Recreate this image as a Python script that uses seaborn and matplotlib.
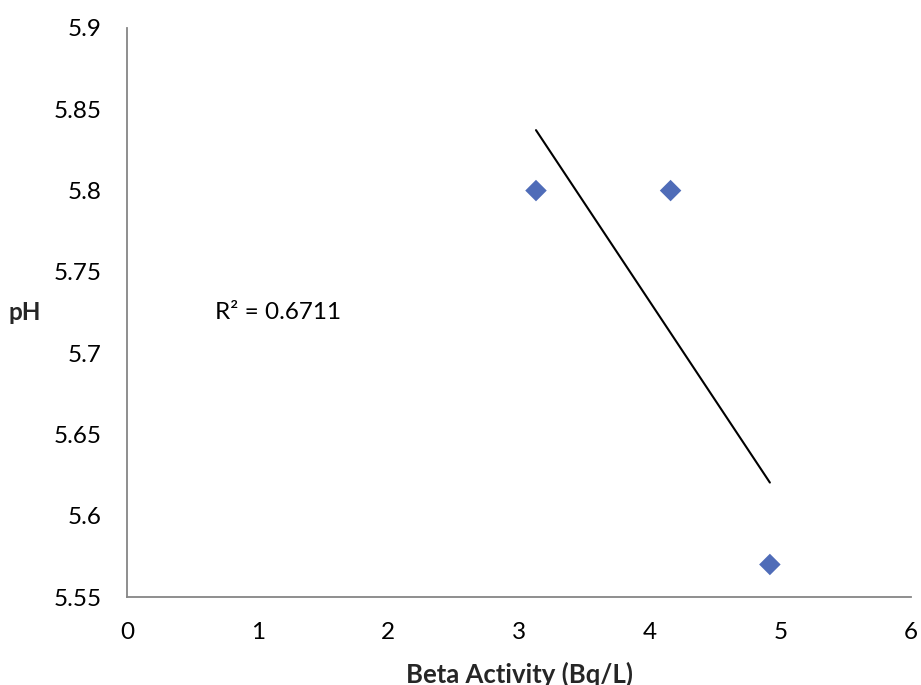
import matplotlib
matplotlib.use("Agg")
import matplotlib.pyplot as plt
import seaborn as sns
import numpy as np
import pandas as pd

beta_activity = [3.13, 4.16, 4.92]
ph_values = [5.80, 5.80, 5.57]
x_ticks = [0, 1, 2, 3, 4, 5, 6]
y_ticks = [5.55, 5.6, 5.65, 5.7, 5.75, 5.8, 5.85, 5.9]
y_tick_labels = ["5.55", "5.6", "5.65", "5.7", "5.75", "5.8", "5.85", "5.9"]
r2_label = "R² = 0.6711"

df = pd.DataFrame({"Beta Activity (Bq/L)": beta_activity, "pH": ph_values})

sns.set_style("white")
plt.rcParams['font.family'] = ['Lato', 'DejaVu Sans']

fig = plt.figure(figsize=(9.21, 6.85), dpi=100)
ax = fig.add_axes([127/921, 1 - 597/685, (911-127)/921, (597-28)/685])

sns.regplot(data=df, x="Beta Activity (Bq/L)", y="pH", ax=ax, ci=None, truncate=True,
            marker="D",
            scatter_kws=dict(s=120, color="#4F6CB8", edgecolor="none", alpha=1, zorder=3),
            line_kws=dict(color="black", lw=1.5, zorder=2))

ax.set_xlim(0, 6)
ax.set_ylim(5.55, 5.9)
ax.set_xticks(x_ticks)
ax.set_xticklabels([str(t) for t in x_ticks])
ax.set_yticks(y_ticks)
ax.set_yticklabels(y_tick_labels)

for side in ["top", "right"]:
    ax.spines[side].set_visible(False)
for side in ["left", "bottom"]:
    ax.spines[side].set_color("#868686")
    ax.spines[side].set_linewidth(1.3)

ax.tick_params(axis="both", which="major", direction="out", length=7, width=1.3,
               color="#868686", labelsize=17.5, labelcolor="black")
ax.tick_params(axis="x", pad=11)
ax.tick_params(axis="y", pad=11)

ax.set_xlabel("Beta Activity (Bq/L)", fontsize=18.5, fontweight="bold")
ax.xaxis.set_label_coords(0.5, -0.113)
ax.set_ylabel("pH", fontsize=17.5, fontweight="bold", rotation=0, va="center")
ax.yaxis.set_label_coords(-0.13, 0.5)

ax.text(0.67, 5.725, r2_label, fontsize=17.5, color="black", va="center", ha="left")

fig.savefig("out.png", dpi=100)
